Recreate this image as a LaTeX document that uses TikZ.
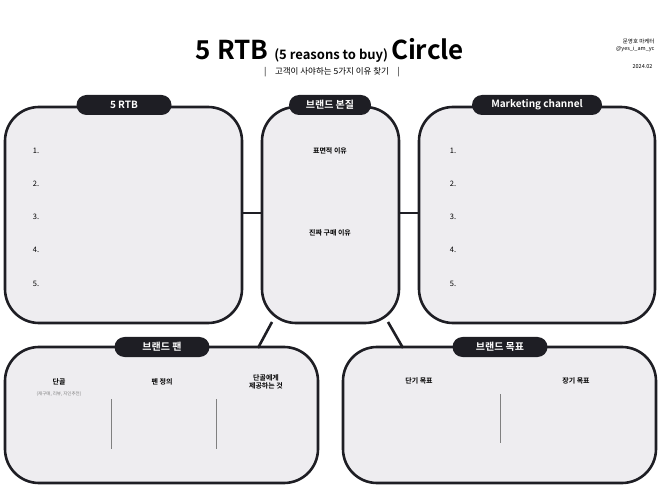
\documentclass[tikz,border=0pt]{standalone}
\usepackage{fontspec}
\setmainfont{Noto Sans CJK KR}
\newfontfamily\bfk{Noto Sans CJK KR Bold}
\definecolor{boxfill}{HTML}{EEEDF0}
\definecolor{dark}{HTML}{1E1E24}
\begin{document}
\begin{tikzpicture}[x=1pt,y=-1pt,
  panel/.style={draw=dark,line width=2.6pt,fill=boxfill,rounded corners=34pt},
  tab/.style={fill=dark,text=white,rounded corners=10pt,minimum height=20pt,font=\bfk\fontsize{10}{10}\selectfont,inner xsep=12pt},
  link/.style={draw=dark,line width=2.6pt},
  lbl/.style={font=\bfk\fontsize{7}{8}\selectfont,align=center},
  num/.style={font=\fontsize{7.5}{8}\selectfont},
  sep/.style={draw=gray,line width=0.8pt}]
\useasboundingbox (0,0) rectangle (664,494);
% panels
\draw[panel] (5,107) rectangle (242,323); \coordinate (A) at (123,215);
\draw[panel] (262,107) rectangle (399,323);
\draw[panel] (419,107) rectangle (655,323);
\draw[panel] (5,347) rectangle (318,483);
\draw[panel] (343,347) rectangle (656,483);
\coordinate (l1) at (243,213); \coordinate (l2) at (261,213);
\coordinate (r1) at (400,213); \coordinate (r2) at (418,213);
\coordinate (d1) at (272,322); \coordinate (d2) at (258,348);
\coordinate (e1) at (388,322); \coordinate (e2) at (403,348);
\draw[link] (l1)--(l2); \draw[link] (r1)--(r2);
\draw[link] (d1)--(d2); \draw[link] (e1)--(e2);
% tabs
\node[tab,minimum width=95pt] (t1) at (124,105) {5 RTB};
\node[tab,minimum width=82pt] (t2) at (330,105) {브랜드 본질};
\node[tab,minimum width=130pt] (t3) at (537,105) {Marketing channel};
\node[tab,minimum width=95pt] (t4) at (162,347) {브랜드 팬};
\node[tab,minimum width=95pt] (t5) at (500,347) {브랜드 목표};
% title
\node (title) at (330,50) {\bfk\fontsize{26}{28}\selectfont 5 RTB \fontsize{13}{14}\selectfont (5 reasons to buy) \fontsize{26}{28}\selectfont Circle};
\node[font=\fontsize{8.5}{10}\selectfont] (sub) at (332,72) {|\quad 고객이 사야하는 5가지 이유 찾기\quad |};
\node[font=\fontsize{5.5}{7}\selectfont,align=right,anchor=east] (auth) at (658,45) {문영호 마케터\\@yes\_i\_am\_yc};
\node[font=\fontsize{5.5}{7}\selectfont,anchor=east] (date) at (656,67) {2024.02};
% numbers
\foreach \n/\y in {1/151,2/184,3/217,4/250,5/284}{
  \node[num] (ln\n) at (36,\y) {\n.};
  \node[num] (rn\n) at (453,\y) {\n.};
}
\node[lbl] (m1) at (330,151) {표면적 이유};
\node[lbl] (m2) at (330,233) {진짜 구매 이유};
% bottom left
\node[lbl] (b1) at (59,382) {단골};
\node[font=\fontsize{4.5}{5}\selectfont,text=gray] (b1s) at (59,394) {(재구매, 리뷰, 지인추천)};
\node[lbl] (b2) at (162,382) {펜 정의};
\node[lbl] (b3) at (266,382) {단골에게\\제공하는 것};
\draw[sep] (111,399)--(111,449);
\draw[sep] (216,399)--(216,449);
% bottom right
\node[lbl] (c1) at (419,381) {단기 목표};
\node[lbl] (c2) at (576,381) {장기 목표};
\draw[sep] (500,394)--(500,443);
\end{tikzpicture}
\end{document}
